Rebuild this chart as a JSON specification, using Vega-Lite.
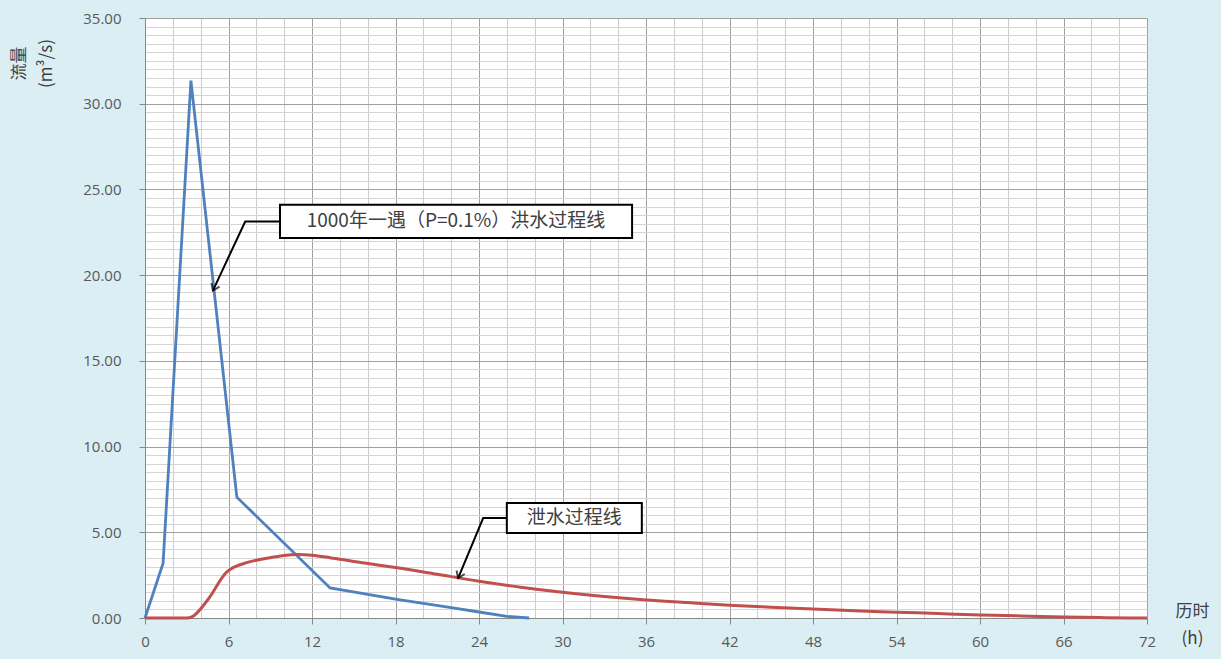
{
  "$schema": "https://vega.github.io/schema/vega-lite/v6.json",
  "width": 1002,
  "height": 600,
  "autosize": {"type": "none"},
  "padding": {"left": 145, "top": 18, "right": 74, "bottom": 41},
  "background": "#dbeef4",
  "config": {
    "view": {"fill": "white", "stroke": "#a6a6a6", "strokeWidth": 1},
    "font": "Open Sans",
    "axis": {"labelFont": "Open Sans", "labelColor": "#595959", "labelFontSize": 15, "titleFont": "Noto Sans CJK SC", "titleColor": "#404040", "titleFontWeight": "normal"}
  },
  "datasets": {
    "flood": [
      {"t": 0, "q": 0, "s": "洪水过程线"},
      {"t": 1.3, "q": 3.2, "s": "洪水过程线"},
      {"t": 3.3, "q": 31.35, "s": "洪水过程线"},
      {"t": 6.6, "q": 7.05, "s": "洪水过程线"},
      {"t": 13.3, "q": 1.75, "s": "洪水过程线"},
      {"t": 18, "q": 1.1, "s": "洪水过程线"},
      {"t": 22, "q": 0.6, "s": "洪水过程线"},
      {"t": 24, "q": 0.35, "s": "洪水过程线"},
      {"t": 26, "q": 0.1, "s": "洪水过程线"},
      {"t": 27.6, "q": 0, "s": "洪水过程线"}
    ],
    "release": [
      {"t": 0, "q": 0, "s": "泄水过程线"},
      {"t": 3.0, "q": 0, "s": "泄水过程线"},
      {"t": 3.4, "q": 0.08, "s": "泄水过程线"},
      {"t": 4.5, "q": 1.05, "s": "泄水过程线"},
      {"t": 5.9, "q": 2.7, "s": "泄水过程线"},
      {"t": 7.5, "q": 3.27, "s": "泄水过程线"},
      {"t": 9, "q": 3.52, "s": "泄水过程线"},
      {"t": 10, "q": 3.65, "s": "泄水过程线"},
      {"t": 11, "q": 3.7, "s": "泄水过程线"},
      {"t": 12, "q": 3.66, "s": "泄水过程线"},
      {"t": 13.3, "q": 3.52, "s": "泄水过程线"},
      {"t": 15, "q": 3.3, "s": "泄水过程线"},
      {"t": 18, "q": 2.95, "s": "泄水过程线"},
      {"t": 21, "q": 2.55, "s": "泄水过程线"},
      {"t": 24, "q": 2.15, "s": "泄水过程线"},
      {"t": 27, "q": 1.8, "s": "泄水过程线"},
      {"t": 30, "q": 1.5, "s": "泄水过程线"},
      {"t": 33, "q": 1.25, "s": "泄水过程线"},
      {"t": 36, "q": 1.05, "s": "泄水过程线"},
      {"t": 39, "q": 0.9, "s": "泄水过程线"},
      {"t": 42, "q": 0.75, "s": "泄水过程线"},
      {"t": 45, "q": 0.63, "s": "泄水过程线"},
      {"t": 48, "q": 0.52, "s": "泄水过程线"},
      {"t": 51, "q": 0.42, "s": "泄水过程线"},
      {"t": 54, "q": 0.34, "s": "泄水过程线"},
      {"t": 57, "q": 0.26, "s": "泄水过程线"},
      {"t": 60, "q": 0.18, "s": "泄水过程线"},
      {"t": 63, "q": 0.12, "s": "泄水过程线"},
      {"t": 66, "q": 0.06, "s": "泄水过程线"},
      {"t": 69, "q": 0.02, "s": "泄水过程线"},
      {"t": 72, "q": 0, "s": "泄水过程线"}
    ],
    "boxes": [
      {"x1": 9.7, "x2": 35.0, "y1": 22.17, "y2": 24.1, "xc": 22.35, "yc": 23.13, "label": "1000年一遇（P=0.1%）洪水过程线"},
      {"x1": 26.0, "x2": 35.7, "y1": 4.96, "y2": 6.71, "xc": 30.85, "yc": 5.83, "label": "泄水过程线"}
    ],
    "leaders": [
      {"g": "a", "o": 0, "h": 9.7, "v": 23.13},
      {"g": "a", "o": 1, "h": 7.2, "v": 23.13},
      {"g": "a", "o": 2, "h": 4.88, "v": 19.1},
      {"g": "b", "o": 0, "h": 26.0, "v": 5.83},
      {"g": "b", "o": 1, "h": 24.3, "v": 5.83},
      {"g": "b", "o": 2, "h": 22.5, "v": 2.33}
    ],
    "heads": [
      {"h": 4.88, "v": 19.1, "a": 114.6},
      {"h": 22.5, "v": 2.33, "a": 113.4}
    ]
  },
  "encoding": {
    "x": {
      "field": "t", "type": "quantitative",
      "scale": {"domain": [0, 72], "nice": false, "zero": false},
      "axis": {
        "values": [0,2,4,6,8,10,12,14,16,18,20,22,24,26,28,30,32,34,36,38,40,42,44,46,48,50,52,54,56,58,60,62,64,66,68,70,72],
        "labelExpr": "datum.value % 6 === 0 ? datum.label : ''",
        "grid": true,
        "gridColor": {"condition": {"test": "datum.value % 6 === 0", "value": "#a0a0a0"}, "value": "#cccccc"},
        "gridWidth": 1,
        "tickColor": "#888888",
        "tickOpacity": {"condition": {"test": "datum.value % 6 === 0", "value": 1}, "value": 0},
        "tickSize": 6,
        "domainColor": "#888888",
        "labelPadding": 10,
        "labelFlush": false,
        "title": ["历时", "(h)"],
        "titleFontSize": 17,
        "titleAngle": 0,
        "titleAlign": "center",
        "titleBaseline": "middle",
        "titleLineHeight": 27,
        "titleX": 1047,
        "titleY": -7
      }
    },
    "y": {
      "field": "q", "type": "quantitative",
      "scale": {"domain": [0, 35], "nice": false},
      "axis": {
        "values": [0,0.5,1,1.5,2,2.5,3,3.5,4,4.5,5,5.5,6,6.5,7,7.5,8,8.5,9,9.5,10,10.5,11,11.5,12,12.5,13,13.5,14,14.5,15,15.5,16,16.5,17,17.5,18,18.5,19,19.5,20,20.5,21,21.5,22,22.5,23,23.5,24,24.5,25,25.5,26,26.5,27,27.5,28,28.5,29,29.5,30,30.5,31,31.5,32,32.5,33,33.5,34,34.5,35],
        "labelExpr": "datum.value % 5 === 0 ? format(datum.value, '.2f') : ''",
        "grid": true,
        "gridColor": {"condition": {"test": "datum.value % 5 === 0", "value": "#a0a0a0"}, "value": "#d9d4d4"},
        "tickColor": "#888888",
        "tickOpacity": {"condition": {"test": "datum.value % 5 === 0", "value": 1}, "value": 0},
        "tickSize": 6,
        "domainColor": "#888888",
        "labelPadding": 18,
        "labelFlush": false,
        "title": ["流量", "(m³/s)"],
        "titleFontSize": 17,
        "titleAngle": 270,
        "titleAlign": "center",
        "titleBaseline": "middle",
        "titleLineHeight": 27,
        "titleX": -126,
        "titleY": 45
      }
    }
  },
  "layer": [
    {
      "data": {"name": "flood"},
      "mark": {"type": "line", "strokeWidth": 2.8, "color": "#4f81bd"}
    },
    {
      "data": {"name": "release"},
      "mark": {"type": "line", "strokeWidth": 3, "color": "#c0504d", "interpolate": "monotone"}
    },
    {
      "data": {"name": "leaders"},
      "mark": {"type": "line", "color": "black", "strokeWidth": 2},
      "encoding": {
        "x": {"field": "h", "type": "quantitative"},
        "y": {"field": "v", "type": "quantitative"},
        "detail": {"field": "g"},
        "order": {"field": "o", "type": "quantitative"}
      }
    },
    {
      "data": {"name": "heads"},
      "mark": {"type": "point", "shape": "M -1 -0.7 L 0 0 L -1 0.7", "filled": false, "stroke": "black", "strokeWidth": 2, "size": 160},
      "encoding": {
        "x": {"field": "h", "type": "quantitative"},
        "y": {"field": "v", "type": "quantitative"},
        "angle": {"field": "a", "type": "quantitative", "scale": null}
      }
    },
    {
      "data": {"name": "boxes"},
      "mark": {"type": "rect", "fill": "white", "stroke": "black", "strokeWidth": 2},
      "encoding": {
        "x": {"field": "x1", "type": "quantitative"},
        "x2": {"field": "x2"},
        "y": {"field": "y1", "type": "quantitative"},
        "y2": {"field": "y2"}
      }
    },
    {
      "data": {"name": "boxes"},
      "mark": {"type": "text", "font": "Noto Sans CJK SC", "fontSize": 19, "color": "#404040", "align": "center", "baseline": "middle"},
      "encoding": {
        "x": {"field": "xc", "type": "quantitative"},
        "y": {"field": "yc", "type": "quantitative"},
        "text": {"field": "label"}
      }
    }
  ]
}
